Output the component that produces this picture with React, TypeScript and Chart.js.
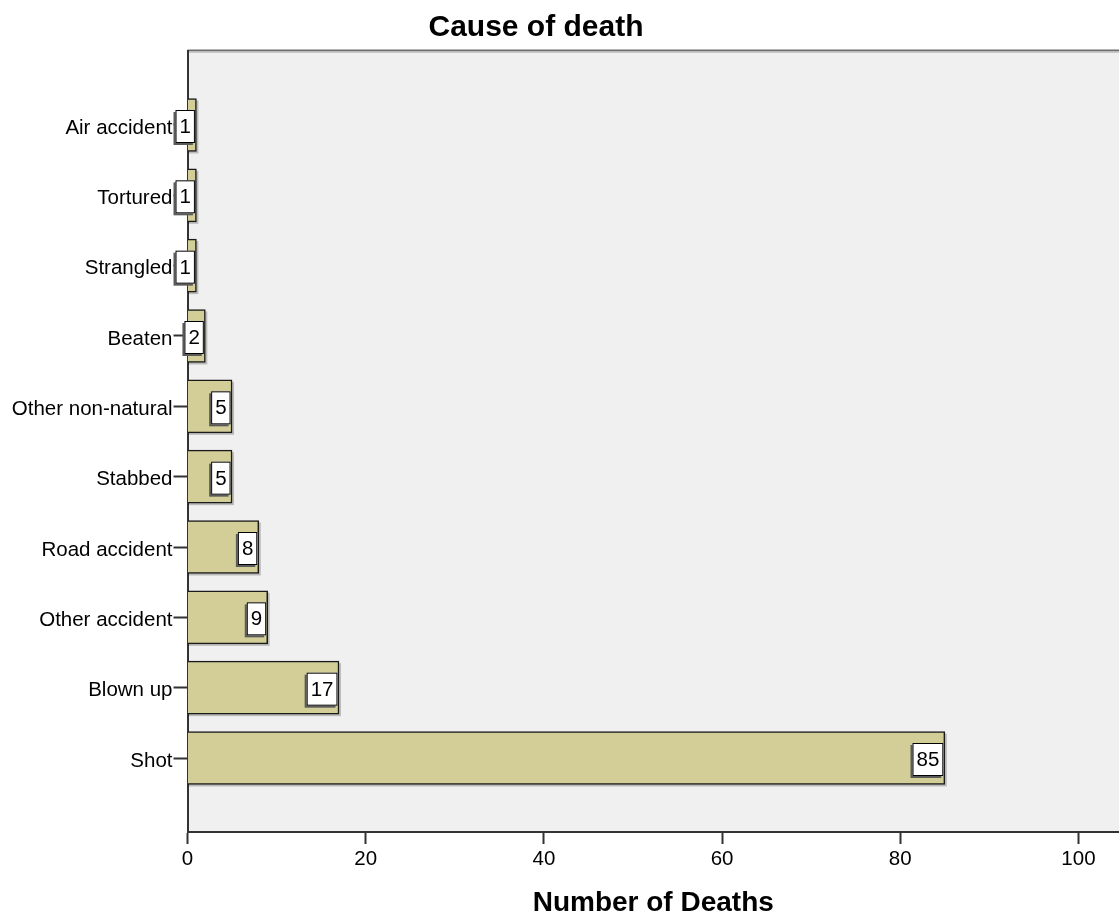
import React, { useEffect, useRef } from "react";
import { Chart, registerables } from "chart.js";

Chart.register(...registerables);

const chartTitle = "Cause of death";
const xAxisTitle = "Number of Deaths";
const categories = [
  "Air accident",
  "Tortured",
  "Strangled",
  "Beaten",
  "Other non-natural",
  "Stabbed",
  "Road accident",
  "Other accident",
  "Blown up",
  "Shot",
];
const deaths = [1, 1, 1, 2, 5, 5, 8, 9, 17, 85];
const xTickValues = [0, 20, 40, 60, 80, 100];

const FONT = "Arial, 'Liberation Sans', sans-serif";

const backgroundPlugin = {
  id: "plotBg",
  beforeDraw(chart: any) {
    const { ctx, chartArea } = chart;
    ctx.save();
    ctx.fillStyle = "#F0F0F0";
    ctx.fillRect(chartArea.left, chartArea.top, chartArea.right - chartArea.left, chartArea.bottom - chartArea.top);
    ctx.fillStyle = "#6e6e6e";
    ctx.fillRect(chartArea.left, chartArea.top - 1.5, chartArea.right - chartArea.left, 2);
    ctx.fillStyle = "#c9c9c9";
    ctx.fillRect(chartArea.left, chartArea.top + 0.5, chartArea.right - chartArea.left, 1.5);
    ctx.restore();
  },
  beforeDatasetsDraw(chart: any) {
    const { ctx } = chart;
    const meta = chart.getDatasetMeta(0);
    ctx.save();
    ctx.fillStyle = "rgba(0,0,0,0.22)";
    meta.data.forEach((bar: any) => {
      const p = bar.getProps(["x", "y", "base", "height"], true);
      ctx.fillRect(p.base, p.y - p.height / 2 + 2, p.x - p.base + 2, p.height);
    });
    ctx.restore();
  },
  afterDatasetsDraw(chart: any) {
    const { ctx } = chart;
    const meta = chart.getDatasetMeta(0);
    const values = chart.data.datasets[0].data;
    ctx.save();
    ctx.font = `20.5px ${FONT}`;
    ctx.textAlign = "center";
    ctx.textBaseline = "middle";
    meta.data.forEach((bar: any, i: number) => {
      const p = bar.getProps(["x", "y"], true);
      const v = values[i];
      const label = String(typeof v === "object" ? v.x : v);
      const tw = ctx.measureText(label).width;
      const w = tw + 8;
      const h = 33;
      const right = p.x - 1.5;
      const left = right - w;
      const top = p.y + 1.5 - h / 2;
      ctx.fillStyle = "#5a5a5a";
      ctx.fillRect(left - 2, top + 2, w, h);
      ctx.fillStyle = "#ffffff";
      ctx.fillRect(left, top, w, h);
      ctx.strokeStyle = "#000";
      ctx.lineWidth = 1;
      ctx.strokeRect(left + 0.5, top + 0.5, w - 1, h - 1);
      ctx.fillStyle = "#000";
      ctx.fillText(label, left + w / 2, top + h / 2 + 1);
    });
    ctx.restore();
  },
  afterDraw(chart: any) {
    const { ctx } = chart;
    ctx.save();
    ctx.font = `bold 30px ${FONT}`;
    ctx.fillStyle = "#000";
    ctx.textAlign = "center";
    ctx.textBaseline = "middle";
    ctx.fillText(chartTitle, 536, 28);
    ctx.restore();
  },
};

export default function App() {
  const ref = useRef<HTMLCanvasElement>(null);
  useEffect(() => {
    if (!ref.current) return;
    const chart = new Chart(ref.current, {
      type: "bar",
      data: {
        datasets: [
          {
            data: deaths.map((v, i) => ({ x: v, y: i })),
            backgroundColor: "#D3CE97",
            borderColor: "#1a1a1a",
            borderWidth: 1.5,
            barThickness: 53,
          },
        ],
      },
      options: {
        indexAxis: "y",
        animation: false,
        responsive: false,
        maintainAspectRatio: false,
        layout: { padding: { top: 51, right: 0, left: 0, bottom: 0 } },
        plugins: { legend: { display: false }, tooltip: { enabled: false }, title: { display: false } },
        scales: {
          x: {
            type: "linear",
            min: 0,
            max: 104.55,
            afterBuildTicks(scale: any) {
              scale.ticks = xTickValues.map((v) => ({ value: v }));
            },
            afterFit(scale: any) {
              scale.height = 85;
            },
            grid: { drawOnChartArea: false, drawTicks: true, tickLength: 12, tickWidth: 2, tickColor: "#333" },
            border: { display: true, color: "#333", width: 2 },
            ticks: { font: { family: FONT, size: 20.5 }, color: "#000", padding: 3, maxRotation: 0 },
            title: {
              display: true,
              text: xAxisTitle,
              color: "#000",
              font: { family: FONT, size: 28, weight: "bold", lineHeight: 1 },
              padding: { top: 0, bottom: 0 },
            },
          },
          y: {
            type: "linear",
            reverse: true,
            offset: false,
            min: -1.052,
            max: 10.052,
            afterBuildTicks(scale: any) {
              scale.ticks = categories.map((_, i) => ({ value: i }));
            },
            afterFit(scale: any) {
              scale.width = 187.5;
            },
            grid: { offset: false, drawOnChartArea: false, drawTicks: true, tickLength: 14, tickWidth: 2, tickColor: "#333" },
            border: { display: true, color: "#333", width: 2 },
            ticks: {
              font: { family: FONT, size: 20.5 },
              color: "#000",
              padding: 1,
              labelOffset: 3,
              autoSkip: false,
              callback: (v: any) => categories[v as number] ?? "",
            },
          },
        },
      },
      plugins: [backgroundPlugin],
    });
    return () => chart.destroy();
  }, []);
  return (
    <div style={{ position: "absolute", left: 0, top: 0, width: 1119, height: 917, background: "#fff" }}>
      <canvas ref={ref} width={1119} height={917} style={{ width: 1119, height: 917, display: "block" }} />
    </div>
  );
}
